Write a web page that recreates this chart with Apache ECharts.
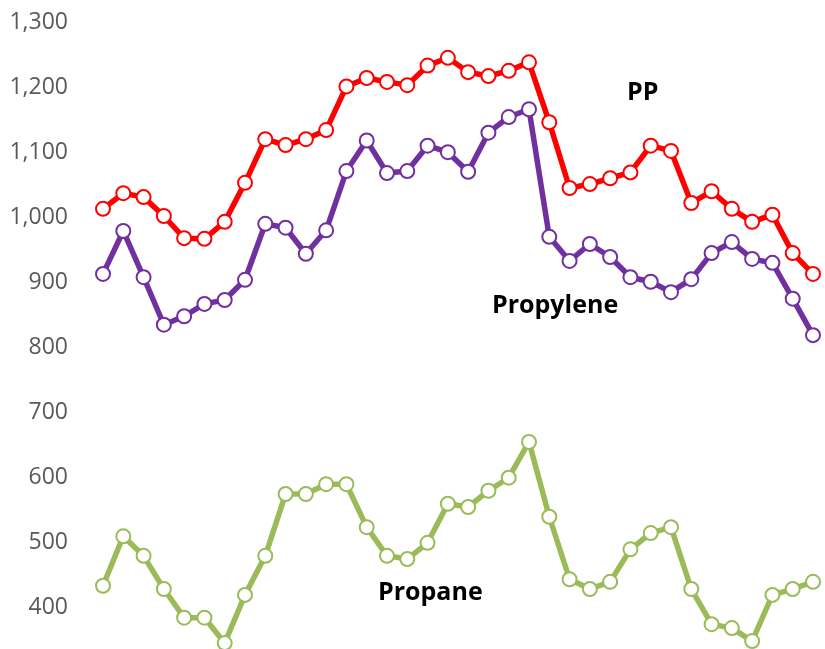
<!DOCTYPE html>
<html>
<head>
<meta charset="utf-8">
<script src="https://cdn.jsdelivr.net/npm/echarts@6/dist/echarts.min.js"></script>
<style>html,body{margin:0;padding:0;background:#fff;overflow:hidden}#c{width:825px;height:673px}</style>
</head>
<body>
<div id="c"></div>
<script>
const categories = Array.from({length: 36}, (_, i) => String(i + 1));
const ppValues = [1013,1037,1031,1002,968,967,993,1053,1120,1111,1120,1134,1201,1214,1208,1203,1233,1245,1223,1217,1225,1238,1146,1045,1051,1060,1069,1110,1102,1022,1040,1013,993,1004,945,913];
const propyleneValues = [913,979,908,835,848,867,873,904,990,984,944,980,1071,1118,1068,1071,1110,1100,1070,1130,1154,1166,970,933,959,939,908,901,885,905,945,962,936,930,875,819];
const propaneValues = [434,510,480,429,385,385,346,420,480,575,575,590,590,524,480,475,500,560,555,580,600,655,540,444,429,440,490,515,524,429,375,369,349,420,429,440];
const yTicks = [400,500,600,700,800,900,1000,1100,1200,1300];

const chart = echarts.init(document.getElementById('c'));
const FONT = '"Open Sans", "Noto Sans", sans-serif';
function mk(name, data, color) {
  return {
    name, type: 'line', data,
    symbol: 'circle', symbolSize: 14,
    lineStyle: {color, width: 5.5},
    itemStyle: {color: '#ffffff', borderColor: color, borderWidth: 2},
    z: 2, animation: false
  };
}
chart.setOption({
  animation: false,
  grid: {left: 103, right: 12, top: 22, bottom: 0},
  xAxis: {type: 'category', data: categories, boundaryGap: false, show: false},
  yAxis: {
    type: 'value', min: 300, max: 1300, interval: 100,
    axisLine: {show: false}, axisTick: {show: false}, splitLine: {show: false},
    axisLabel: {
      margin: 35, color: '#595959', fontSize: 23, fontFamily: FONT,
      padding: [3, 0, 0, 0],
      formatter: v => yTicks.includes(v) ? v.toLocaleString('en-US') : ''
    }
  },
  series: [
    mk('PP', ppValues, '#FF0000'),
    mk('Propylene', propyleneValues, '#7030A0'),
    mk('Propane', propaneValues, '#9BBB59')
  ],
  graphic: [
    {type: 'text', x: 627, y: 93, style: {text: 'PP', font: 'bold 25px ' + FONT, fill: '#000', verticalAlign: 'middle'}},
    {type: 'text', x: 492, y: 306, style: {text: 'Propylene', font: 'bold 25px ' + FONT, fill: '#000', verticalAlign: 'middle'}},
    {type: 'text', x: 378, y: 593, style: {text: 'Propane', font: 'bold 25px ' + FONT, fill: '#000', verticalAlign: 'middle'}}
  ]
});
</script>
</body>
</html>
